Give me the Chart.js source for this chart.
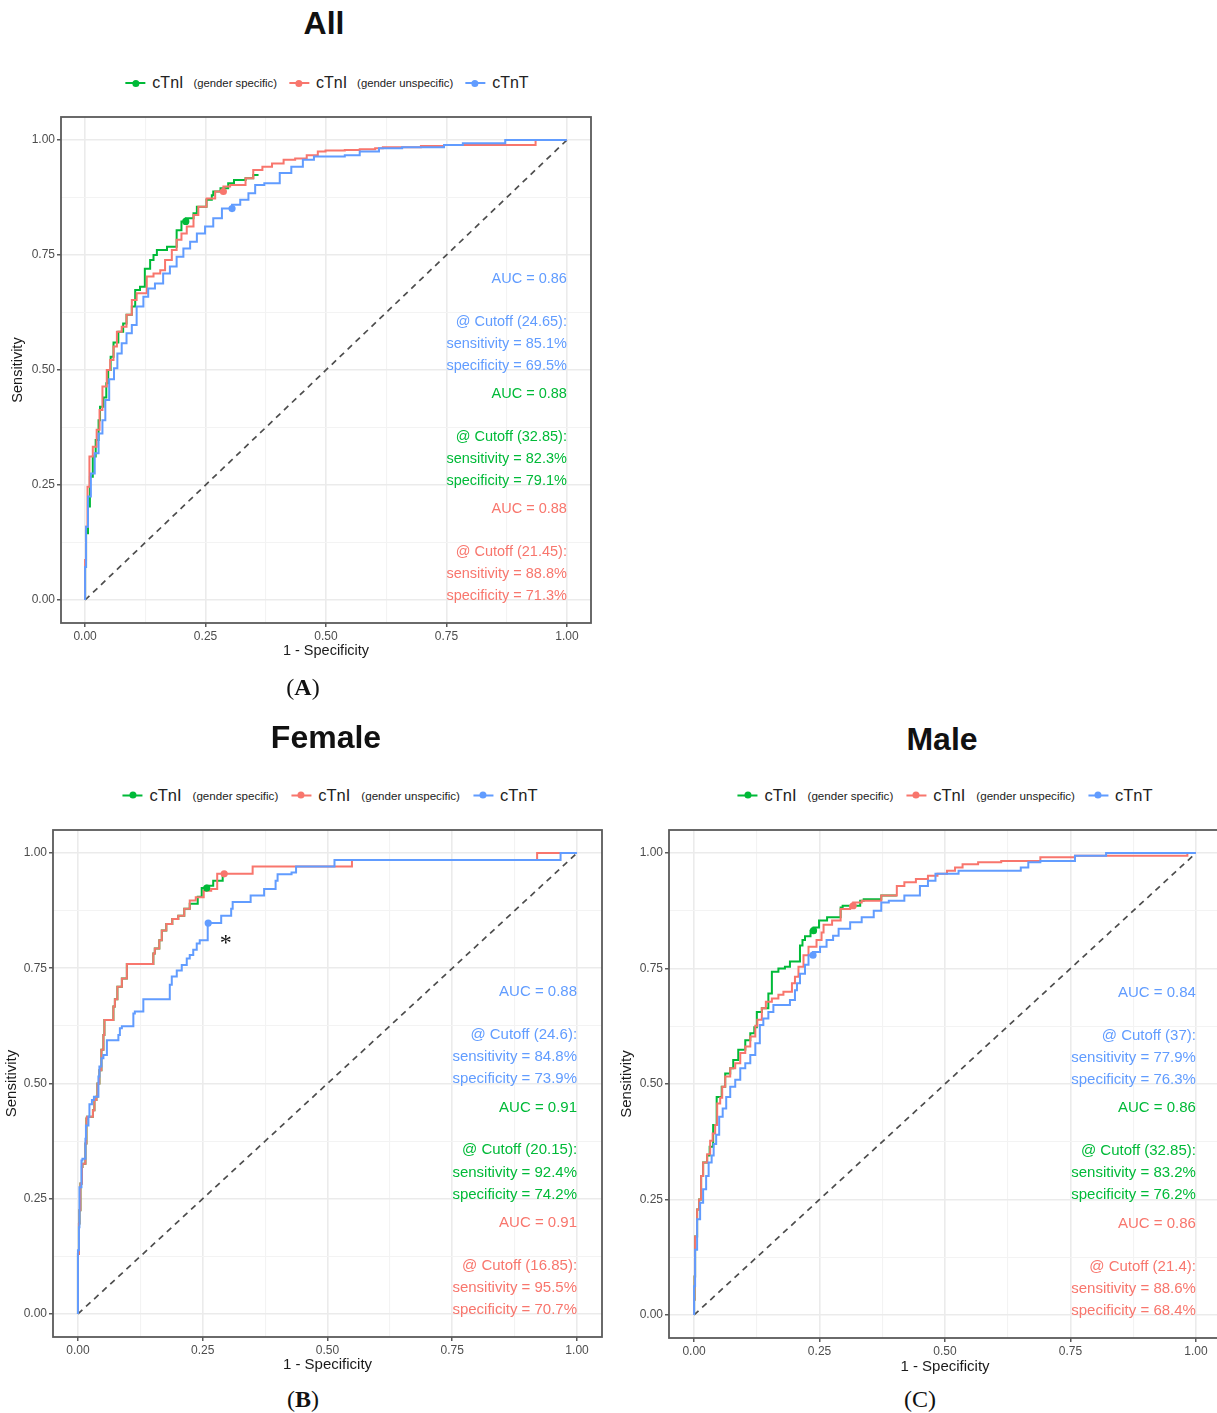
<!DOCTYPE html>
<html>
<head>
<meta charset="utf-8">
<script src="https://cdn.jsdelivr.net/npm/chart.js@4.4.1/dist/chart.umd.min.js"></script>
<style>
  html, body { margin: 0; padding: 0; background: #fff; width: 1217px; height: 1413px; overflow: hidden; }
  body { position: relative; font-family: "Liberation Sans", Arial, sans-serif; }
  canvas { position: absolute; }
  .title { position: absolute; transform: translate(-50%, -50%); font-weight: bold; font-size: 32px; color: #111; white-space: nowrap; }
  .legend { position: absolute; transform: translate(-50%, -50%); display: flex; align-items: center; white-space: nowrap; color: #222; }
  .sw { position: relative; width: 20px; height: 2px; margin-right: 7px; }
  .sw span { position: absolute; left: 6.5px; top: -2.5px; width: 7px; height: 7px; border-radius: 50%; }
  .big { font-size: 16px; }
  .small { font-size: 11.3px; margin-left: 10px; }
  .item { display: flex; align-items: center; margin-right: 12px; }
  .item:last-child { margin-right: 0; }
  .wide .big { font-size: 16.5px; }
  .wide .small { font-size: 11.6px; margin-left: 11px; }
  .wide .item { margin-right: 13px; }
  .wide .item:last-child { margin-right: 0; }
  .caption { position: absolute; transform: translate(-50%, -50%); font-family: "Liberation Serif", "Times New Roman", serif; font-size: 24px; color: #111; }
</style>
</head>
<body>
<div class="title" style="left:324px; top:23px">All</div>
<div class="legend" id="legA" style="left:327px; top:83px"></div>
<canvas id="rocA" width="610" height="580" style="left:0px; top:100px"></canvas>
<div class="caption" style="left:303px; top:687px">(<b>A</b>)</div>

<div class="title" style="left:326px; top:737px">Female</div>
<div class="legend wide" id="legB" style="left:330px; top:795px"></div>
<canvas id="rocB" width="610" height="570" style="left:0px; top:810px"></canvas>
<div class="caption" style="left:303px; top:1399px">(<b>B</b>)</div>

<div class="title" style="left:942px; top:739px">Male</div>
<div class="legend wide" id="legC" style="left:945px; top:795px"></div>
<canvas id="rocC" width="615" height="570" style="left:612px; top:810px"></canvas>
<div class="caption" style="left:920px; top:1399px">(C)</div>

<script>
// series: cTnI gender specific, cTnI gender unspecific, cTnT
const seriesNames = ['cTnI', 'cTnI', 'cTnT']
const seriesNotes = ['(gender specific)', '(gender unspecific)', '']
const seriesColors = ['#00BA38', '#F8766D', '#619CFF']

const gridValues = [0, 0.125, 0.25, 0.375, 0.5, 0.625, 0.75, 0.875, 1]
const tickValues = [0, 0.25, 0.5, 0.75, 1]
const tickLabels = ['0.00', '0.25', '0.50', '0.75', '1.00']
const chanceLine = [[0, 0], [1, 1]]

// (1 - specificity, sensitivity)
const allGreen = [[0,0],[0.002,0.072],[0.006,0.145],[0.01,0.203],[0.016,0.268],[0.022,0.312],[0.028,0.348],[0.031,0.391],[0.038,0.42],[0.044,0.44],[0.048,0.471],[0.053,0.5],[0.059,0.529],[0.069,0.56],[0.079,0.583],[0.086,0.601],[0.097,0.62],[0.104,0.638],[0.114,0.674],[0.124,0.681],[0.135,0.72],[0.142,0.739],[0.149,0.75],[0.17,0.761],[0.19,0.768],[0.2,0.804],[0.209,0.823],[0.225,0.83],[0.232,0.841],[0.252,0.855],[0.263,0.87],[0.266,0.88],[0.281,0.888],[0.297,0.895],[0.309,0.906],[0.333,0.913],[0.349,0.917],[0.36,0.924]]
const allRed = [[0,0],[0.002,0.087],[0.005,0.159],[0.009,0.246],[0.016,0.312],[0.024,0.333],[0.03,0.37],[0.036,0.413],[0.045,0.464],[0.052,0.5],[0.059,0.522],[0.066,0.551],[0.076,0.583],[0.086,0.594],[0.097,0.62],[0.107,0.652],[0.128,0.667],[0.142,0.703],[0.156,0.71],[0.166,0.717],[0.18,0.739],[0.19,0.761],[0.2,0.783],[0.211,0.797],[0.225,0.812],[0.235,0.837],[0.252,0.855],[0.27,0.873],[0.287,0.888],[0.301,0.899],[0.333,0.902],[0.349,0.917],[0.368,0.935],[0.388,0.942],[0.412,0.949],[0.436,0.957],[0.46,0.96],[0.483,0.967],[0.499,0.975],[0.539,0.977],[0.57,0.978],[0.602,0.98],[0.618,0.982],[0.697,0.984],[0.745,0.987],[0.792,0.989],[0.935,0.989],[0.967,1],[1,1]]
const allBlue = [[0,0],[0.002,0.072],[0.006,0.159],[0.012,0.225],[0.02,0.275],[0.028,0.319],[0.036,0.362],[0.042,0.391],[0.05,0.435],[0.06,0.48],[0.067,0.504],[0.076,0.536],[0.086,0.558],[0.097,0.58],[0.107,0.598],[0.121,0.638],[0.131,0.659],[0.145,0.677],[0.162,0.688],[0.176,0.71],[0.19,0.725],[0.204,0.746],[0.218,0.764],[0.232,0.779],[0.249,0.797],[0.266,0.812],[0.284,0.83],[0.305,0.851],[0.322,0.859],[0.339,0.87],[0.353,0.884],[0.372,0.902],[0.404,0.906],[0.428,0.928],[0.452,0.942],[0.475,0.957],[0.499,0.964],[0.539,0.964],[0.57,0.967],[0.61,0.975],[0.658,0.982],[0.745,0.984],[0.784,0.989],[0.872,0.993],[0.975,1],[1,1]]
const allCutoffs = [[0.209,0.823],[0.287,0.888],[0.305,0.851]]
const allNotes = [
  ['AUC = 0.86', '@ Cutoff (24.65):', 'sensitivity = 85.1%', 'specificity = 69.5%'],
  ['AUC = 0.88', '@ Cutoff (32.85):', 'sensitivity = 82.3%', 'specificity = 79.1%'],
  ['AUC = 0.88', '@ Cutoff (21.45):', 'sensitivity = 88.8%', 'specificity = 71.3%']
]

const femaleGreen = [[0,0],[0,0.036],[0.002,0.13],[0.003,0.196],[0.005,0.225],[0.008,0.283],[0.009,0.319],[0.015,0.326],[0.017,0.37],[0.018,0.424],[0.02,0.428],[0.03,0.428],[0.033,0.442],[0.037,0.464],[0.039,0.471],[0.043,0.5],[0.047,0.529],[0.051,0.573],[0.053,0.605],[0.054,0.638],[0.071,0.638],[0.074,0.667],[0.079,0.683],[0.088,0.71],[0.098,0.728],[0.121,0.759],[0.151,0.759],[0.154,0.782],[0.163,0.793],[0.168,0.811],[0.177,0.832],[0.189,0.846],[0.201,0.857],[0.213,0.864],[0.224,0.879],[0.24,0.89],[0.248,0.905],[0.258,0.924],[0.271,0.929],[0.275,0.94],[0.29,0.94],[0.293,0.955]]
const femaleRed = [[0,0],[0,0.036],[0.002,0.13],[0.003,0.196],[0.005,0.225],[0.008,0.283],[0.009,0.319],[0.015,0.326],[0.017,0.37],[0.018,0.424],[0.02,0.428],[0.03,0.428],[0.033,0.442],[0.037,0.464],[0.039,0.471],[0.043,0.5],[0.047,0.529],[0.051,0.573],[0.053,0.605],[0.054,0.638],[0.071,0.638],[0.074,0.667],[0.079,0.683],[0.088,0.71],[0.098,0.728],[0.121,0.759],[0.151,0.759],[0.154,0.782],[0.163,0.793],[0.168,0.811],[0.177,0.832],[0.189,0.846],[0.201,0.857],[0.213,0.864],[0.224,0.879],[0.236,0.897],[0.252,0.904],[0.267,0.918],[0.279,0.922],[0.293,0.955],[0.35,0.955],[0.35,0.971],[0.549,0.971],[0.549,0.985],[0.92,0.985],[0.92,1],[1,1]]
const femaleBlue = [[0,0],[0.002,0.138],[0.003,0.188],[0.007,0.275],[0.009,0.333],[0.015,0.337],[0.016,0.38],[0.021,0.409],[0.023,0.428],[0.028,0.455],[0.032,0.464],[0.041,0.471],[0.043,0.515],[0.047,0.537],[0.051,0.555],[0.058,0.562],[0.064,0.594],[0.081,0.594],[0.084,0.605],[0.088,0.62],[0.111,0.624],[0.114,0.652],[0.131,0.656],[0.141,0.683],[0.184,0.683],[0.188,0.714],[0.198,0.732],[0.208,0.745],[0.218,0.757],[0.224,0.771],[0.231,0.779],[0.238,0.79],[0.244,0.804],[0.26,0.811],[0.261,0.848],[0.287,0.848],[0.291,0.864],[0.307,0.864],[0.31,0.879],[0.313,0.894],[0.346,0.894],[0.348,0.908],[0.373,0.908],[0.373,0.922],[0.396,0.922],[0.4,0.94],[0.428,0.954],[0.437,0.958],[0.437,0.971],[0.514,0.971],[0.518,0.985],[0.967,0.985],[0.971,1],[1,1]]
const femaleCutoffs = [[0.258,0.924],[0.293,0.955],[0.261,0.848]]
const femaleNotes = [
  ['AUC = 0.88', '@ Cutoff (24.6):', 'sensitivity = 84.8%', 'specificity = 73.9%'],
  ['AUC = 0.91', '@ Cutoff (20.15):', 'sensitivity = 92.4%', 'specificity = 74.2%'],
  ['AUC = 0.91', '@ Cutoff (16.85):', 'sensitivity = 95.5%', 'specificity = 70.7%']
]
const femaleStar = [[0.296, 0.811]]

const maleGreen = [[0,0],[0.001,0.033],[0.002,0.083],[0.006,0.17],[0.01,0.228],[0.014,0.25],[0.018,0.301],[0.026,0.33],[0.031,0.345],[0.038,0.364],[0.045,0.411],[0.055,0.472],[0.062,0.494],[0.072,0.523],[0.078,0.534],[0.088,0.552],[0.102,0.574],[0.112,0.595],[0.12,0.61],[0.125,0.623],[0.135,0.656],[0.148,0.664],[0.155,0.696],[0.168,0.743],[0.181,0.75],[0.191,0.754],[0.198,0.765],[0.211,0.765],[0.216,0.8],[0.221,0.812],[0.232,0.82],[0.238,0.832],[0.249,0.839],[0.265,0.854],[0.292,0.861],[0.296,0.882],[0.331,0.886],[0.338,0.897],[0.373,0.9],[0.404,0.908]]
const maleRed = [[0,0],[0.001,0.033],[0.002,0.083],[0.006,0.17],[0.01,0.228],[0.014,0.25],[0.018,0.301],[0.026,0.33],[0.032,0.348],[0.037,0.377],[0.042,0.393],[0.046,0.411],[0.052,0.458],[0.056,0.47],[0.062,0.494],[0.072,0.516],[0.082,0.534],[0.092,0.545],[0.102,0.567],[0.112,0.581],[0.122,0.603],[0.126,0.626],[0.135,0.639],[0.143,0.664],[0.155,0.678],[0.168,0.685],[0.178,0.693],[0.185,0.7],[0.195,0.7],[0.201,0.718],[0.208,0.732],[0.218,0.754],[0.228,0.779],[0.244,0.797],[0.254,0.812],[0.258,0.828],[0.275,0.845],[0.292,0.854],[0.311,0.879],[0.317,0.886],[0.334,0.893],[0.373,0.897],[0.404,0.908],[0.419,0.929],[0.442,0.937],[0.466,0.944],[0.485,0.951],[0.504,0.955],[0.52,0.962],[0.535,0.969],[0.566,0.976],[0.612,0.98],[0.69,0.983],[0.759,0.991],[0.821,0.994],[0.983,0.994],[0.983,1],[1,1]]
const maleBlue = [[0,0],[0.002,0.062],[0.006,0.141],[0.012,0.207],[0.018,0.243],[0.024,0.272],[0.029,0.301],[0.035,0.33],[0.039,0.345],[0.044,0.37],[0.05,0.39],[0.057,0.429],[0.064,0.447],[0.072,0.472],[0.082,0.494],[0.092,0.509],[0.102,0.534],[0.112,0.545],[0.122,0.563],[0.131,0.588],[0.138,0.628],[0.148,0.642],[0.158,0.656],[0.171,0.671],[0.191,0.671],[0.201,0.682],[0.205,0.703],[0.211,0.718],[0.221,0.739],[0.228,0.758],[0.237,0.779],[0.251,0.786],[0.264,0.797],[0.277,0.812],[0.288,0.821],[0.311,0.836],[0.334,0.85],[0.358,0.861],[0.373,0.875],[0.388,0.893],[0.419,0.897],[0.45,0.908],[0.466,0.929],[0.481,0.94],[0.527,0.955],[0.574,0.962],[0.651,0.962],[0.666,0.969],[0.69,0.98],[0.759,0.983],[0.821,0.994],[0.906,1],[1,1]]
const maleCutoffs = [[0.238,0.832],[0.317,0.886],[0.237,0.779]]
const maleNotes = [
  ['AUC = 0.84', '@ Cutoff (37):', 'sensitivity = 77.9%', 'specificity = 76.3%'],
  ['AUC = 0.86', '@ Cutoff (32.85):', 'sensitivity = 83.2%', 'specificity = 76.2%'],
  ['AUC = 0.86', '@ Cutoff (21.4):', 'sensitivity = 88.6%', 'specificity = 68.4%']
]

const toXY = arr => arr.map(([x, y]) => ({ x: x, y: y }))
const isMajor = v => tickValues.includes(v)

// legend (html, mixed font sizes like the original)
function buildLegend(id) {
  const box = document.getElementById(id)
  seriesNames.forEach((name, i) => {
    const item = document.createElement('div')
    item.className = 'item'
    item.innerHTML = '<div class="sw" style="background:' + seriesColors[i] + '"><span style="background:' + seriesColors[i] + '"></span></div>'
      + '<span class="big">' + name + '</span>'
      + (seriesNotes[i] ? '<span class="small">' + seriesNotes[i] + '</span>' : '')
    box.appendChild(item)
  })
}

// panel border, AUC / cutoff texts, star
const ggPanel = {
  id: 'ggPanel',
  afterDatasetsDraw(chart, args, opts) {
    const { ctx, chartArea: a, scales: { x, y } } = chart
    ctx.save()
    ctx.strokeStyle = '#5a5a5a'
    ctx.lineWidth = 1.8
    ctx.strokeRect(a.left, a.top, a.right - a.left, a.bottom - a.top)

    // blocks: cTnT on top, then cTnI specific, then cTnI unspecific
    const blockColors = [seriesColors[2], seriesColors[0], seriesColors[1]]
    const blockBase = [0.698, 0.448, 0.198]
    const lineDrop = [0, 0.093, 0.141, 0.189]
    ctx.font = opts.noteSize + 'px "Liberation Sans", Arial, sans-serif'
    ctx.textAlign = 'right'
    ctx.textBaseline = 'middle'
    opts.notes.forEach((lines, i) => {
      ctx.fillStyle = blockColors[i]
      lines.forEach((txt, j) => {
        ctx.fillText(txt, x.getPixelForValue(1), y.getPixelForValue(blockBase[i] - lineDrop[j]))
      })
    })
    if (opts.star) {
      ctx.fillStyle = '#111'
      ctx.font = '24px "Liberation Serif", serif'
      ctx.textAlign = 'center'
      opts.star.forEach(([sx, sy]) => ctx.fillText('*', x.getPixelForValue(sx), y.getPixelForValue(sy) + 4))
    }
    ctx.restore()
  }
}

function axisCfg(size, titleText, titleSize, titlePad) {
  return {
    type: 'linear', min: -0.05, max: 1.05,
    afterBuildTicks: s => { s.ticks = gridValues.map(v => ({ value: v })) },
    afterFit: s => { if (s.isHorizontal()) s.height = size; else s.width = size },
    ticks: {
      autoSkip: false, maxRotation: 0, padding: 2, color: '#4d4d4d',
      font: { family: '"Liberation Sans", Arial, sans-serif', size: 12 },
      callback: v => isMajor(v) ? tickLabels[tickValues.indexOf(v)] : ''
    },
    grid: {
      color: c => (c.tick && isMajor(c.tick.value)) ? '#ebebeb' : '#f3f3f3',
      lineWidth: c => (c.tick && isMajor(c.tick.value)) ? 1.6 : 1.1,
      tickLength: 4,
      tickWidth: 1.2,
      tickColor: c => (c.tick && isMajor(c.tick.value)) ? '#333' : 'rgba(0,0,0,0)'
    },
    border: { display: false },
    title: {
      display: true, text: titleText, color: '#1a1a1a',
      font: { family: '"Liberation Sans", Arial, sans-serif', size: titleSize },
      padding: titlePad
    }
  }
}

function rocChart(id, curves, cutoffs, notes, star, lay) {
  const datasets = [{
    data: toXY(chanceLine), borderColor: '#4d4d4d', borderWidth: 1.7, borderDash: [6, 5],
    pointRadius: 0, order: 5
  }]
  curves.forEach((c, i) => datasets.push({
    label: seriesNames[i] + ' ' + seriesNotes[i],
    data: toXY(c), borderColor: seriesColors[i], borderWidth: 2,
    pointRadius: 0, stepped: 'after', order: 4 - i
  }))
  datasets.push({
    data: toXY(cutoffs), showLine: false, pointRadius: 3.6, pointBorderWidth: 0,
    pointBackgroundColor: seriesColors, borderColor: seriesColors, order: 0
  })

  new Chart(document.getElementById(id), {
    type: 'line',
    data: { datasets: datasets },
    plugins: [ggPanel],
    options: {
      responsive: false, animation: false, events: [],
      layout: { padding: lay.padding },
      plugins: {
        legend: { display: false }, tooltip: { enabled: false },
        ggPanel: { notes: notes, star: star, noteSize: lay.noteSize }
      },
      scales: {
        x: axisCfg(lay.xH, '1 - Specificity', lay.titleSize, { top: 0, bottom: lay.xTitlePad }),
        y: axisCfg(lay.yW, 'Sensitivity', lay.titleSize, { top: lay.yTitlePad, bottom: 0 })
      }
    }
  })
}

buildLegend('legA')
buildLegend('legB')
buildLegend('legC')

rocChart('rocA', [allGreen, allRed, allBlue], allCutoffs, allNotes, null,
  { padding: { left: 0, top: 17, right: 19, bottom: 0 }, yW: 61, xH: 57, titleSize: 14.5, xTitlePad: 20, yTitlePad: 9, noteSize: 14.5 })
rocChart('rocB', [femaleGreen, femaleRed, femaleBlue], femaleCutoffs, femaleNotes, femaleStar,
  { padding: { left: 0, top: 20, right: 8, bottom: 0 }, yW: 53, xH: 43, titleSize: 15, xTitlePad: 6, yTitlePad: 3, noteSize: 15 })
rocChart('rocC', [maleGreen, maleRed, maleBlue], maleCutoffs, maleNotes, null,
  { padding: { left: 0, top: 20, right: 6, bottom: 0 }, yW: 57, xH: 42, titleSize: 15, xTitlePad: 4, yTitlePad: 6, noteSize: 15 })
</script>
</body>
</html>
